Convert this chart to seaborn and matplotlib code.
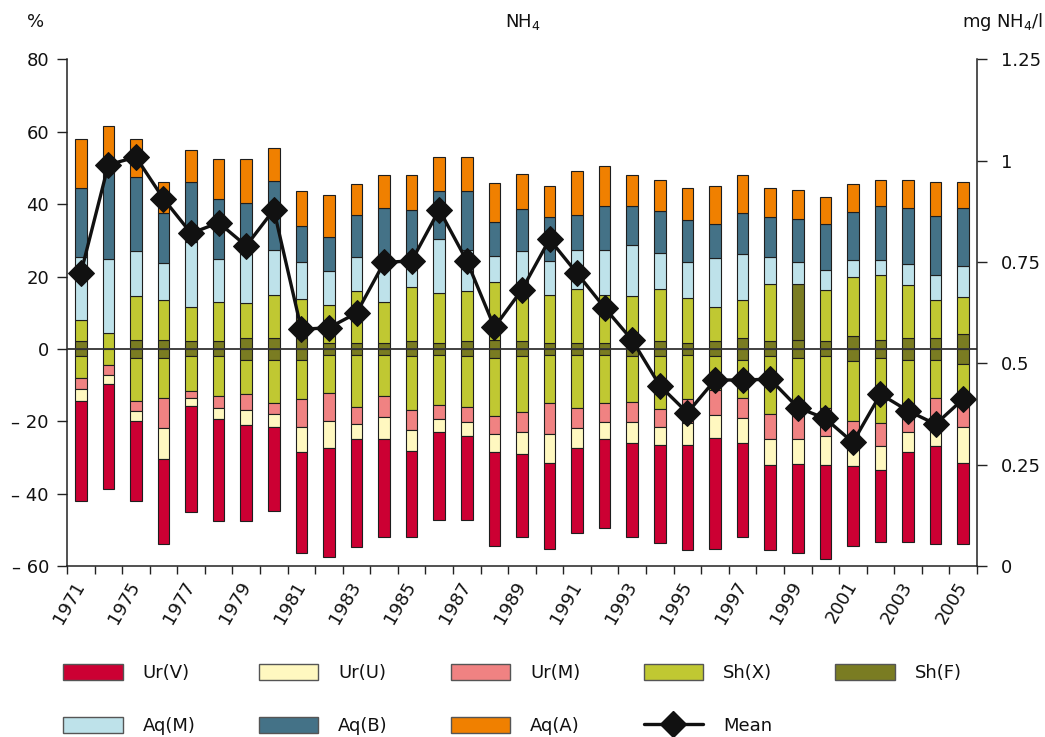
"""
NH4 in rivers: share of stations per class (stacked bars, %) and mean
concentration (line, mg NH4/l) per year, 1971-2005.
"""

import matplotlib.pyplot as plt
import numpy as np
import seaborn as sns
from matplotlib.lines import Line2D
from matplotlib.patches import Patch

# -----------------------------------------------------------------------------
# Data
# -----------------------------------------------------------------------------
YEARS = [
    "1971", "1973", "1975", "1976", "1977", "1978", "1979", "1980", "1981",
    "1982", "1983", "1984", "1985", "1986", "1987", "1988", "1989", "1990",
    "1991", "1992", "1993", "1994", "1995", "1996", "1997", "1998", "1999",
    "2000", "2001", "2002", "2003", "2004", "2005",
]

# percentages per class (Sh classes are split half above / half below zero)
AQ_A = [13.5, 8.7, 10.5, 8.6, 9.0, 11.1, 12.2, 9.0, 9.6, 11.5, 8.6, 9.1, 9.6,
        9.5, 9.5, 10.6, 9.6, 8.6, 12.2, 11.0, 8.5, 8.5, 9.0, 10.5, 10.5, 8.2,
        8.0, 7.4, 8.0, 7.1, 7.6, 9.5, 7.1]
AQ_B = [19.1, 28.1, 20.5, 13.9, 16.5, 16.5, 14.2, 19.1, 10.0, 9.4, 11.6, 16.5,
        15.5, 13.1, 16.1, 9.6, 11.5, 12.1, 9.5, 12.2, 11.0, 11.5, 11.5, 9.6,
        11.5, 10.9, 12.0, 12.6, 13.1, 15.0, 15.4, 16.1, 16.0]
AQ_M = [17.4, 20.4, 12.6, 10.1, 18.1, 12.0, 13.6, 12.4, 10.0, 9.5, 9.4, 9.6,
        6.0, 14.9, 11.4, 7.0, 9.6, 9.4, 11.0, 12.4, 14.0, 10.1, 10.1, 13.6,
        12.6, 7.4, 6.1, 5.5, 4.6, 4.0, 6.0, 6.9, 8.5]
SH_X = [12.0, 9.0, 24.0, 22.1, 18.8, 21.7, 19.1, 24.0, 21.8, 20.9, 28.8, 22.7,
        29.8, 27.9, 27.8, 32.1, 30.8, 26.8, 29.7, 26.8, 25.0, 28.8, 24.7, 18.7,
        21.0, 31.9, 30.8, 28.6, 33.1, 36.0, 29.1, 21.2, 20.8]
SH_F = [4.1, 0.0, 5.0, 5.0, 4.2, 4.2, 6.0, 6.0, 6.0, 3.2, 3.2, 3.2, 4.2, 3.2,
        4.2, 5.0, 4.2, 3.2, 3.2, 3.2, 4.2, 4.2, 3.2, 4.2, 6.0, 4.2, 5.0, 4.2,
        6.9, 5.0, 6.0, 6.0, 8.1]
UR_M = [3.0, 2.6, 2.8, 8.3, 2.1, 3.5, 4.4, 2.9, 7.6, 8.0, 4.7, 6.0, 5.5, 3.8,
        4.1, 4.9, 5.5, 8.6, 5.5, 5.1, 5.5, 5.1, 6.5, 6.7, 5.7, 6.9, 6.9, 7.6,
        3.9, 6.4, 5.4, 7.3, 7.1]
UR_U = [3.4, 2.5, 2.7, 8.5, 2.3, 2.9, 4.1, 3.7, 7.0, 7.4, 4.3, 6.0, 5.7, 3.7,
        3.9, 5.0, 6.0, 8.0, 5.5, 4.9, 6.0, 4.9, 6.1, 6.4, 6.7, 7.0, 7.1, 8.0,
        8.5, 6.7, 5.6, 6.0, 10.0]
UR_V = [27.6, 29.1, 22.1, 23.6, 29.2, 28.3, 26.6, 23.1, 27.9, 30.1, 29.7, 27.1,
        23.9, 24.1, 23.2, 26.1, 23.0, 23.6, 23.5, 24.6, 26.0, 27.2, 29.1, 30.7,
        26.0, 23.6, 24.5, 26.1, 22.1, 19.8, 24.9, 27.1, 22.5]

# mean concentration, mg NH4/l (right axis)
MEAN = [0.722, 0.990, 1.009, 0.906, 0.821, 0.847, 0.790, 0.879, 0.584, 0.588,
        0.624, 0.749, 0.753, 0.879, 0.753, 0.589, 0.682, 0.806, 0.722, 0.637,
        0.557, 0.445, 0.378, 0.459, 0.459, 0.461, 0.391, 0.364, 0.305, 0.424,
        0.383, 0.350, 0.412]

COLORS = {
    "Ur(V)": "#CC0033",
    "Ur(U)": "#FFF8C0",
    "Ur(M)": "#F08282",
    "Sh(X)": "#C0C832",
    "Sh(F)": "#7A7C22",
    "Aq(M)": "#BEE2EA",
    "Aq(B)": "#447287",
    "Aq(A)": "#F08000",
}
EDGE = "#1e1e1e"
INK = "#111111"
BAR_WIDTH = 0.42
FONT_SIZE = 13


def draw_stack(ax, layers, sign):
    """Stack the layers away from zero (sign=+1 upwards, -1 downwards)."""
    base = np.zeros(len(YEARS))
    containers = []
    for name, values in layers:
        values = sign * np.asarray(values, dtype=float)
        sns.barplot(
            x=YEARS, y=values, bottom=base, color=COLORS[name], saturation=1,
            width=BAR_WIDTH, edgecolor=EDGE, linewidth=0.8, errorbar=None,
            ax=ax,
        )
        containers.append(ax.containers[-1])
        base = base + values
    return containers


def main() -> None:
    sns.set_style("ticks")
    plt.rcParams["font.family"] = ["DejaVu Sans"]
    plt.rcParams["text.color"] = INK
    plt.rcParams["xtick.labelcolor"] = INK
    plt.rcParams["ytick.labelcolor"] = INK

    n = len(YEARS)
    half_f = np.asarray(SH_F) / 2
    half_x = np.asarray(SH_X) / 2

    fig = plt.figure(figsize=(10.45, 7.37), dpi=100)
    ax = fig.add_axes([0.0641, 0.232, 0.8708, 0.6874])

    upper = draw_stack(ax, [("Sh(F)", half_f), ("Sh(X)", half_x),
                            ("Aq(M)", AQ_M), ("Aq(B)", AQ_B),
                            ("Aq(A)", AQ_A)], +1)
    # the source draws the upper Sh(X) half of 1999 in the Sh(F) colour
    upper[1].patches[YEARS.index("1999")].set_facecolor(COLORS["Sh(F)"])
    draw_stack(ax, [("Sh(F)", half_f), ("Sh(X)", half_x), ("Ur(M)", UR_M),
                    ("Ur(U)", UR_U), ("Ur(V)", UR_V)], -1)

    ax.axhline(0, color="#333333", linewidth=1.3, zorder=5)

    # left axis (%)
    ax.set_ylim(-60, 80)
    yticks = list(range(-60, 81, 20))
    ax.set_yticks(yticks)
    ax.set_yticklabels([f"\u2013 {abs(v)}" if v < 0 else str(v) for v in yticks])
    ax.set_ylabel("")
    ax.set_xlabel("")

    # x axis: ticks between bars, labels on every other bar
    ax.set_xticks(np.arange(n + 1) - 0.5)
    ax.set_xticklabels([])
    ax.set_xticks(np.arange(0, n, 2), minor=True)
    ax.set_xticklabels(YEARS[::2], minor=True, rotation=60, ha="right",
                       va="center", rotation_mode="anchor")

    ax.tick_params(axis="x", which="major", direction="out", length=6,
                   width=1, color="#222222")
    ax.tick_params(axis="x", which="minor", length=0, pad=12,
                   labelsize=FONT_SIZE)
    ax.tick_params(axis="y", direction="out", length=7, width=1, pad=6,
                   labelsize=FONT_SIZE, color="#222222")

    for side in ("top", "right"):
        ax.spines[side].set_visible(False)
    for side in ("left", "bottom"):
        ax.spines[side].set_color("#222222")
        ax.spines[side].set_linewidth(1.1)

    # right axis: mean concentration
    ax2 = ax.twinx()
    sns.lineplot(
        x=np.arange(n), y=MEAN, ax=ax2, color=INK, linewidth=2.4,
        marker="D", markersize=13, markeredgecolor=INK,
    )
    ax2.set_ylim(0, 1.25)
    rticks = [0, 0.25, 0.5, 0.75, 1, 1.25]
    ax2.set_yticks(rticks)
    ax2.set_yticklabels(["0", "0.25", "0.5", "0.75", "1", "1.25"])
    ax2.tick_params(axis="y", direction="out", length=7, width=1, pad=10,
                    labelsize=FONT_SIZE, color="#222222")
    ax2.set_ylabel("")
    for side in ("top", "left", "bottom"):
        ax2.spines[side].set_visible(False)
    ax2.spines["right"].set_color("#222222")
    ax2.spines["right"].set_linewidth(1.1)
    ax.set_xlim(-0.5, n - 0.5)

    # header texts
    fig.text(27 / 1045, 1 - 22 / 737, "%", ha="left", va="center",
             fontsize=FONT_SIZE)
    fig.text(523 / 1045, 1 - 22 / 737, "NH$_4$", ha="center", va="center",
             fontsize=FONT_SIZE)
    fig.text(1043 / 1045, 1 - 22 / 737, "mg NH$_4$/l", ha="right",
             va="center", fontsize=FONT_SIZE)

    # legend: two rows (matplotlib fills columns first)
    def patch(name):
        return Patch(facecolor=COLORS[name], edgecolor="#555555",
                     linewidth=1.0, label=name)

    mean_handle = Line2D([], [], color=INK, linewidth=2.4, marker="D",
                         markersize=13, label="Mean")
    handles = [patch("Ur(V)"), patch("Aq(M)"), patch("Ur(U)"), patch("Aq(B)"),
               patch("Ur(M)"), patch("Aq(A)"), patch("Sh(X)"), mean_handle,
               patch("Sh(F)")]
    fig.legend(
        handles=handles, ncol=5, loc="upper left",
        bbox_to_anchor=(63 / 1045, 1 - 664 / 737), frameon=False,
        fontsize=FONT_SIZE, handlelength=3.3, handleheight=1.0,
        handletextpad=1.1, columnspacing=3.5, labelspacing=1.9,
        borderpad=0.0, borderaxespad=0.0,
    )

    fig.savefig("out.png", dpi=100)
    plt.close(fig)


if __name__ == "__main__":
    main()
